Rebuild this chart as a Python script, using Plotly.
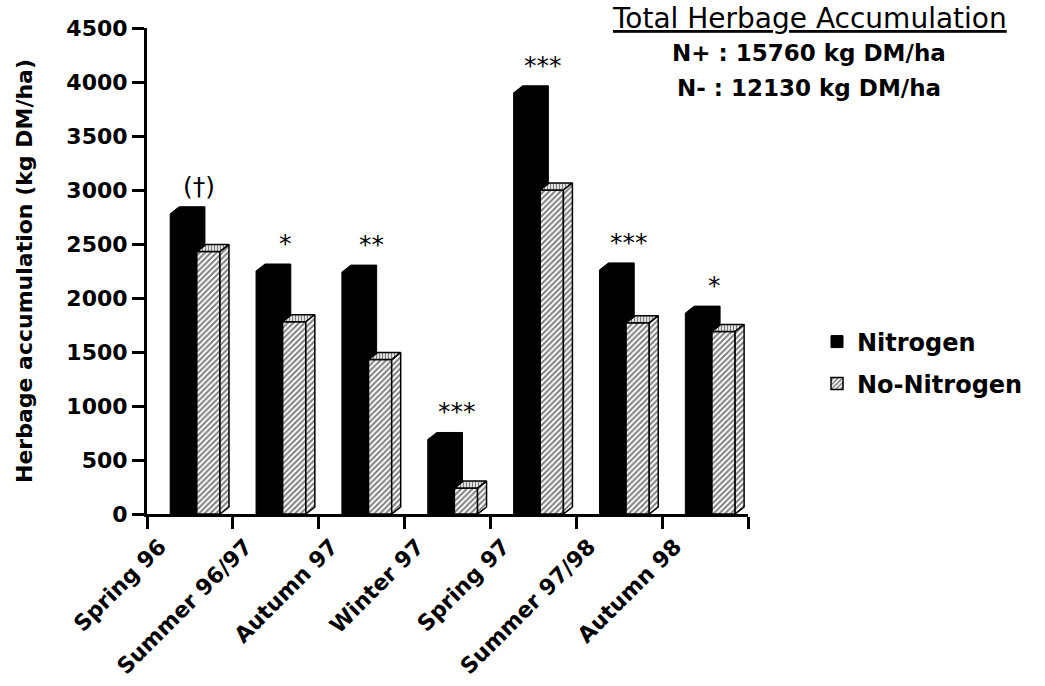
import plotly.graph_objects as go

# ---- data -------------------------------------------------------------
seasons = ["Spring 96", "Summer 96/97", "Autumn 97", "Winter 97",
           "Spring 97", "Summer 97/98", "Autumn 98"]
nitrogen = [2780, 2250, 2240, 690, 3900, 2260, 1860]
no_nitrogen = [2430, 1780, 1430, 240, 3000, 1770, 1690]
significance = ["(†)", "*", "**", "***", "***", "***", "*"]
y_tick_values = [0, 500, 1000, 1500, 2000, 2500, 3000, 3500, 4000, 4500]
total_n_plus = 15760
total_n_minus = 12130

# ---- geometry ---------------------------------------------------------
FIG_W, FIG_H = 1045, 686
M_L, M_R, M_T, M_B = 147, 10, 28, 172
plot_w = FIG_W - M_L - M_R
plot_h = FIG_H - M_T - M_B
axis_px = 601                       # length of the category axis in px
x_dom_end = axis_px / plot_w
Y_MAX = 4500
n_cat = len(seasons)
px_per_cat = axis_px / n_cat
px_per_unit = plot_h / Y_MAX

# 3-D extrusion of each bar (offset back and to the right)
DX = 9 / px_per_cat
DY = 7 / px_per_unit

# bar placement inside each category slot
N_L, N_R = 0.27, 0.57
H_L, H_R = 0.58, 0.85

BOLD = dict(family="DejaVu Sans", color="black", weight="bold")


def join(polys):
    xs, ys = [], []
    for poly in polys:
        for px, py in poly:
            xs.append(px)
            ys.append(py)
        xs.append(None)
        ys.append(None)
    return xs, ys


solid_polys, front_polys, top_polys, side_polys = [], [], [], []
for i, (vn, vh) in enumerate(zip(nitrogen, no_nitrogen)):
    a, b = i + N_L, i + N_R
    solid_polys.append([(a, 0), (a, vn), (a + DX, vn + DY), (b + DX, vn + DY),
                        (b + DX, DY), (b, 0), (a, 0)])
    c, d = i + H_L, i + H_R
    front_polys.append([(c, 0), (c, vh), (d, vh), (d, 0), (c, 0)])
    top_polys.append([(c, vh), (c + DX, vh + DY), (d + DX, vh + DY), (d, vh), (c, vh)])
    side_polys.append([(d, 0), (d + DX, DY), (d + DX, vh + DY), (d, vh), (d, 0)])

hatch = dict(shape="/", fgcolor="black", bgcolor="white", size=4, solidity=0.5)
dash_top = dict(shape="|", fgcolor="black", bgcolor="white", size=3, solidity=0.5)

fig = go.Figure()

x, y = join(solid_polys)
fig.add_trace(go.Scatter(x=x, y=y, mode="lines", fill="toself", fillcolor="black",
                         line=dict(color="black", width=1), showlegend=False,
                         hoverinfo="skip"))
for polys, pat in ((front_polys, hatch), (top_polys, dash_top), (side_polys, hatch)):
    x, y = join(polys)
    fig.add_trace(go.Scatter(x=x, y=y, mode="lines", fill="toself", fillcolor="white",
                             fillpattern=pat, line=dict(color="black", width=1.5),
                             showlegend=False, hoverinfo="skip"))

# legend entries
fig.add_trace(go.Bar(x=[None], y=[None], name="Nitrogen", legend="legend",
                     marker=dict(color="black", line=dict(color="black", width=1))))
fig.add_trace(go.Bar(x=[None], y=[None], name="No-Nitrogen", legend="legend2",
                     marker=dict(color="white", pattern=hatch,
                                 line=dict(color="black", width=1.5))))

annotations = []
for i, s in enumerate(significance):
    annotations.append(dict(x=i + 0.61, y=nitrogen[i] + DY, xref="x", yref="y",
                            text=s, showarrow=False, yanchor="bottom", yshift=4,
                            font=dict(family="DejaVu Sans", size=25, color="black")))


def paper_x(px):
    return (px - M_L) / plot_w


def paper_y(py):
    return (M_T + plot_h - py) / plot_h


annotations += [
    dict(x=paper_x(809), y=paper_y(19), xref="paper", yref="paper",
         text="Total Herbage Accumulation", showarrow=False,
         xanchor="center", yanchor="middle",
         font=dict(family="DejaVu Sans", size=28, color="black", lineposition="under")),
    dict(x=paper_x(809), y=paper_y(53), xref="paper", yref="paper",
         text=f"N+ : {total_n_plus} kg DM/ha", showarrow=False,
         xanchor="center", yanchor="middle", font=dict(BOLD, size=23)),
    dict(x=paper_x(809), y=paper_y(88), xref="paper", yref="paper",
         text=f"N- : {total_n_minus} kg DM/ha", showarrow=False,
         xanchor="center", yanchor="middle", font=dict(BOLD, size=23)),
]

legend_style = dict(xanchor="left", yanchor="middle", bgcolor="rgba(0,0,0,0)",
                    font=dict(BOLD, size=24), itemclick=False, itemdoubleclick=False)

fig.update_layout(
    width=FIG_W, height=FIG_H,
    margin=dict(l=M_L, r=M_R, t=M_T, b=M_B, autoexpand=False),
    paper_bgcolor="white", plot_bgcolor="white",
    showlegend=True,
    legend=dict(legend_style, x=paper_x(817), y=paper_y(342)),
    legend2=dict(legend_style, x=paper_x(817), y=paper_y(384)),
    annotations=annotations,
    xaxis=dict(
        domain=[0, x_dom_end], range=[0, n_cat], type="linear",
        tickmode="array", tickvals=[i + 0.15 for i in range(n_cat)], ticktext=seasons,
        tickangle=-45, ticks="", ticklabelstandoff=8,
        tickfont=dict(BOLD, size=22),
        showline=True, linewidth=3, linecolor="black",
        showgrid=False, zeroline=False, fixedrange=True,
        minor=dict(tickmode="array", tickvals=list(range(n_cat + 1)),
                   ticks="outside", ticklen=12, tickwidth=3, tickcolor="black"),
    ),
    yaxis=dict(
        range=[0, Y_MAX], tickmode="array", tickvals=y_tick_values,
        ticks="outside", ticklen=12, tickwidth=3, tickcolor="black",
        tickfont=dict(BOLD, size=22),
        showline=True, linewidth=3, linecolor="black",
        showgrid=False, zeroline=False, fixedrange=True,
        title=dict(text="Herbage accumulation (kg DM/ha)",
                   font=dict(BOLD, size=22), standoff=28),
    ),
)

fig.write_html("out.html")
